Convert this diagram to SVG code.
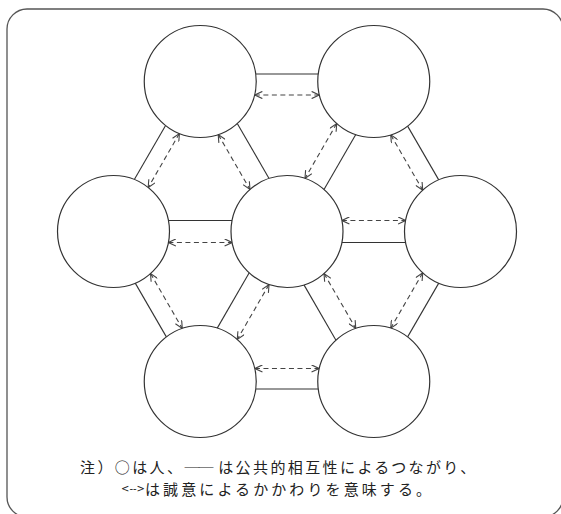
<svg xmlns="http://www.w3.org/2000/svg" width="561" height="514" viewBox="0 0 561 514">
<style>
.frame{fill:none;stroke:#555;stroke-width:1.3}
.node circle{fill:#fff;stroke:#333;stroke-width:1.2}
.solid{stroke:#333;stroke-width:1.1;fill:none}
.dash{stroke:#444;stroke-width:1.1;fill:none;stroke-dasharray:5 3.5;marker-start:url(#ah);marker-end:url(#ah)}
.ahp{fill:none;stroke:#444;stroke-width:1.1}
.cap{font-family:"Noto Sans CJK JP","Noto Sans CJK SC",sans-serif;font-size:15px;fill:#222}
.sp{letter-spacing:2.4px}
.small{font-family:"DejaVu Sans",sans-serif;font-size:10px;fill:#222}
</style>
<defs>
<marker id="ah" viewBox="0 0 8 8" refX="8" refY="4" markerWidth="8" markerHeight="8" markerUnits="userSpaceOnUse" orient="auto-start-reverse">
<path class="ahp" d="M0.5,0.4 L8,4 L0.5,7.6"/>
</marker>
</defs>
<rect class="frame" x="7" y="9" width="556" height="508" rx="20" ry="20"/>
<g id="connectors">
<line class="solid" x1="256" y1="74" x2="318" y2="74"/>
<line class="dash" x1="254.85" y1="95" x2="319.15" y2="95"/>
<line class="solid" x1="168.4" y1="220.5" x2="232.1" y2="220.5"/>
<line class="dash" x1="168.4" y1="242.5" x2="232.1" y2="242.5"/>
<line class="dash" x1="341.9" y1="220.5" x2="405.6" y2="220.5"/>
<line class="solid" x1="341.9" y1="242.5" x2="405.6" y2="242.5"/>
<line class="dash" x1="254.95" y1="368.5" x2="319.05" y2="368.5"/>
<line class="solid" x1="256" y1="389" x2="318" y2="389"/>
<line class="solid" x1="165.58" y1="125.48" x2="134.33" y2="179.52"/>
<line class="dash" x1="179.43" y1="133.49" x2="148.18" y2="187.53"/>
<line class="solid" x1="237.26" y1="123.52" x2="269.03" y2="178.46"/>
<line class="dash" x1="218.22" y1="134.54" x2="249.99" y2="189.48"/>
<line class="solid" x1="355.78" y1="134.54" x2="324.01" y2="189.48"/>
<line class="dash" x1="336.74" y1="123.52" x2="304.97" y2="178.46"/>
<line class="solid" x1="407.62" y1="126.1" x2="438.74" y2="179.9"/>
<line class="dash" x1="390.74" y1="134.86" x2="422.72" y2="190.16"/>
<line class="solid" x1="135.25" y1="283.1" x2="166.37" y2="336.9"/>
<line class="dash" x1="150.51" y1="273.52" x2="182.28" y2="328.46"/>
<line class="solid" x1="249.23" y1="272.84" x2="217.25" y2="328.14"/>
<line class="dash" x1="269.03" y1="284.54" x2="237.26" y2="339.48"/>
<line class="dash" x1="324.01" y1="273.52" x2="355.78" y2="328.46"/>
<line class="solid" x1="303.99" y1="284.86" x2="335.97" y2="340.16"/>
<line class="solid" x1="438.75" y1="283.1" x2="407.63" y2="336.9"/>
<line class="dash" x1="422.73" y1="272.84" x2="390.75" y2="328.14"/>
</g>
<g id="n1" class="node"><circle cx="200.25" cy="81.5" r="56"/></g>
<g id="n2" class="node"><circle cx="373.75" cy="81.5" r="56"/></g>
<g id="n3" class="node"><circle cx="113.5" cy="231.5" r="56"/></g>
<g id="n4" class="node"><circle cx="287" cy="231.5" r="56"/></g>
<g id="n5" class="node"><circle cx="460.5" cy="231.5" r="56"/></g>
<g id="n6" class="node"><circle cx="200.25" cy="381.5" r="56"/></g>
<g id="n7" class="node"><circle cx="373.75" cy="381.5" r="56"/></g>
<g id="caption">
<text class="cap" x="80" y="472.5"><tspan class="sp">注）○は人、</tspan><tspan style="letter-spacing:-1px">──</tspan><tspan class="sp"> は公共的相互性によるつながり、</tspan></text>
<text class="small" x="121" y="492">&lt;--&gt;</text>
<text class="cap" x="145" y="494.5" style="letter-spacing:3.1px">は誠意によるかかわりを意味する。</text>
</g>
</svg>
